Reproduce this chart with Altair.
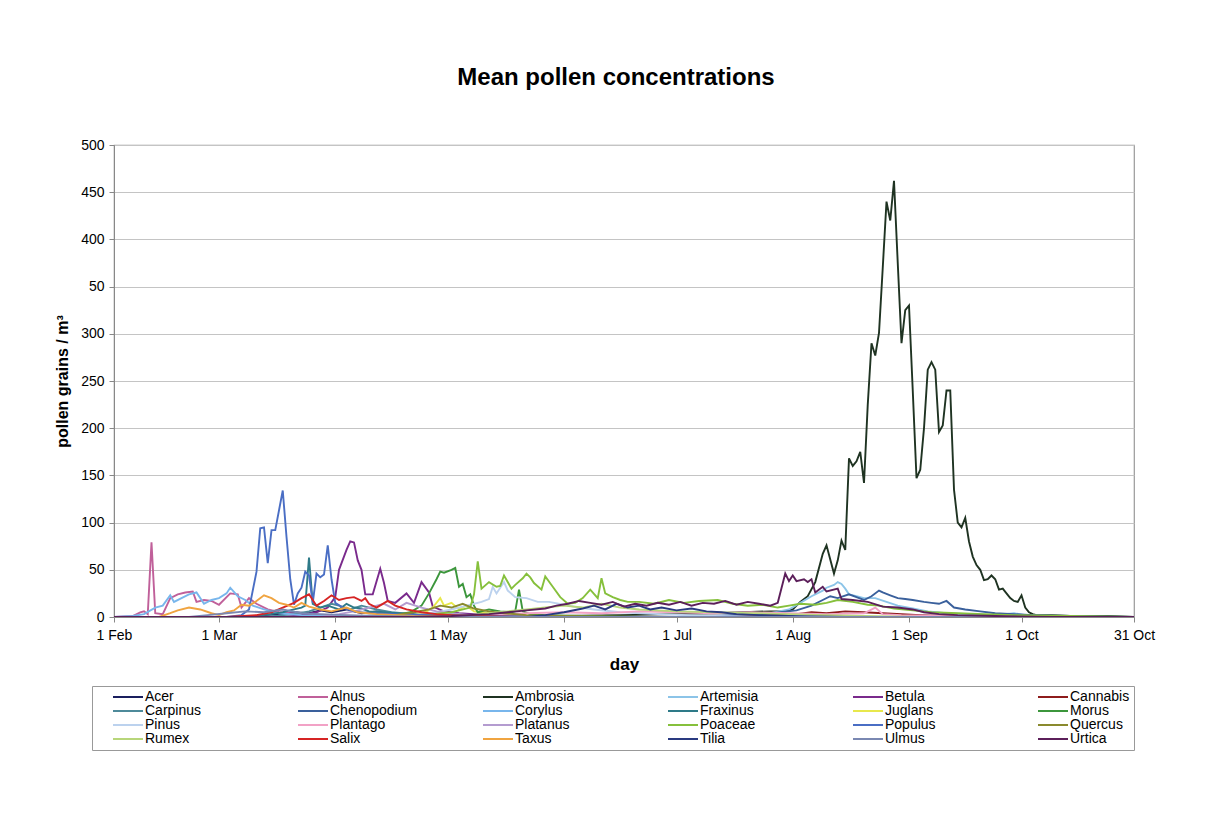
import altair as alt
import pandas as pd

# ---- data (day offset from 1 Feb, concentration) ----
species = ["Acer", "Alnus", "Ambrosia", "Artemisia", "Betula", "Cannabis",
           "Carpinus", "Chenopodium", "Corylus", "Fraxinus", "Juglans", "Morus",
           "Pinus", "Plantago", "Platanus", "Poaceae", "Populus", "Quercus",
           "Rumex", "Salix", "Taxus", "Tilia", "Ulmus", "Urtica"]
colors = ["#1A1F5E", "#C0609A", "#1F3322", "#8CC4E8", "#7A2A8C", "#8E1C1C",
          "#4E8A9A", "#3A609C", "#78B6EC", "#2E7A88", "#E8E84C", "#3C963C",
          "#BCD2EE", "#F2A2C6", "#B49CD0", "#86C03C", "#4A6EC4", "#8A8A2E",
          "#B8D67A", "#D62424", "#F0A440", "#2A3A80", "#7A88B2", "#5C1F5A"]

acer_day = [0, 35, 40, 45, 48, 52, 55, 58, 62, 66, 70, 75, 80, 90, 110, 272]
acer_val = [0, 0, 2, 3, 5, 4, 7, 5, 8, 4, 6, 3, 2, 1, 0, 0]

alnus_day = [0, 5, 7, 8, 9, 10, 11, 13, 15, 17, 19, 21, 22, 24, 26, 28, 31, 33, 34, 36, 38, 41, 44, 50, 55, 65, 80, 272]
alnus_val = [0, 1, 5, 6, 3, 79, 4, 3, 20, 24, 26, 27, 16, 18, 17, 13, 25, 24, 10, 20, 14, 8, 5, 3, 2, 1, 0, 0]

ambrosia_day = [0, 100, 120, 135, 150, 160, 168, 175, 179, 181, 183, 185, 187, 189, 190, 192, 193, 194, 195,
                196, 197, 198, 199, 200, 201, 202, 203, 204, 205, 206, 207, 208, 209, 210, 211, 212, 213,
                214, 215, 216, 217, 218, 219, 220, 221, 222, 223, 224, 225, 226, 227, 228, 229, 230, 231,
                232, 233, 234, 235, 236, 237, 238, 239, 240, 241, 242, 243, 244, 245, 246, 250, 255, 260,
                265, 272]
ambrosia_val = [0, 0, 1, 2, 3, 4, 5, 6, 6, 8, 16, 22, 37, 67, 76, 46, 60, 81, 71,
                168, 160, 165, 175, 142, 225, 290, 277, 301, 370, 440, 420, 462, 375, 290, 325, 330, 240,
                147, 156, 200, 262, 270, 262, 196, 203, 240, 240, 135, 100, 95, 105, 80, 64, 55, 50,
                39, 40, 44, 40, 29, 30, 25, 20, 17, 16, 23, 10, 5, 3, 2, 2, 1, 1,
                1, 0]

artemisia_day = [0, 160, 170, 175, 180, 183, 186, 189, 190, 192, 193, 194, 195, 196, 198, 200, 203, 206,
                 209, 213, 217, 222, 228, 235, 240, 243, 250, 260, 272]
artemisia_val = [0, 0, 2, 4, 8, 15, 22, 28, 31, 34, 37, 35, 30, 24, 22, 20, 20, 16,
                 12, 9, 6, 4, 3, 2, 4, 2, 1, 0, 0]

betula_day = [0, 45, 50, 54, 57, 59, 60, 62, 63, 64, 65, 66, 67, 69, 71, 72, 73, 75, 78, 80, 82, 84, 85,
              88, 92, 100, 110, 130, 272]
betula_val = [0, 0, 2, 5, 10, 21, 50, 71, 80, 79, 60, 50, 24, 24, 51, 36, 17, 15, 25, 15, 37, 26, 11,
              6, 4, 2, 1, 0, 0]

cannabis_day = [0, 150, 165, 175, 182, 186, 190, 195, 200, 205, 210, 215, 222, 235, 272]
cannabis_val = [0, 0, 1, 2, 3, 5, 4, 6, 5, 4, 3, 2, 1, 0, 0]

carpinus_day = [0, 40, 48, 52, 55, 58, 60, 63, 66, 70, 74, 80, 90, 100, 272]
carpinus_val = [0, 0, 3, 6, 10, 14, 12, 8, 12, 8, 5, 3, 1, 0, 0]

chenopodium_day = [0, 150, 165, 175, 182, 186, 189, 191, 193, 196, 198, 200, 202, 204, 205, 207, 209, 211,
                   213, 216, 218, 220, 222, 224, 227, 231, 235, 240, 245, 255, 272]
chenopodium_val = [0, 0, 2, 4, 7, 12, 18, 22, 20, 24, 21, 18, 22, 28, 26, 23, 20, 19,
                   18, 16, 15, 14, 17, 10, 8, 6, 4, 3, 2, 1, 0]

corylus_day = [0, 5, 8, 11, 13, 15, 16, 18, 20, 22, 24, 26, 28, 30, 31, 33, 35, 37, 40, 44, 50, 60, 75, 272]
corylus_val = [0, 1, 3, 10, 12, 23, 16, 20, 24, 26, 14, 18, 20, 25, 31, 22, 18, 12, 8, 4, 2, 1, 0, 0]

fraxinus_day = [0, 35, 40, 45, 48, 50, 51, 52, 53, 55, 57, 60, 62, 64, 66, 68, 72, 76, 80, 90, 100, 120, 272]
fraxinus_val = [0, 0, 2, 5, 8, 10, 12, 63, 14, 10, 12, 8, 14, 10, 9, 6, 5, 4, 3, 2, 1, 0, 0]

juglans_day = [0, 75, 80, 83, 85, 87, 88, 90, 92, 94, 96, 100, 105, 115, 130, 272]
juglans_val = [0, 0, 2, 5, 10, 20, 12, 15, 8, 12, 6, 4, 2, 1, 0, 0]

morus_day = [0, 70, 75, 79, 82, 84, 86, 87, 88, 90, 91, 92, 93, 94, 95, 96, 97, 100, 103, 106, 107, 108,
             109, 111, 115, 125, 140, 272]
morus_val = [0, 0, 2, 5, 12, 25, 40, 48, 47, 50, 52, 32, 35, 21, 24, 12, 5, 8, 6, 5, 6, 29,
             6, 3, 2, 1, 0, 0]

pinus_day = [0, 70, 80, 86, 90, 93, 95, 98, 100, 101, 102, 104, 105, 107, 110, 113, 116, 120, 124, 128,
             135, 145, 160, 180, 272]
pinus_val = [0, 0, 2, 5, 8, 11, 13, 16, 19, 32, 25, 37, 28, 21, 20, 16, 16, 13, 10, 8,
             5, 3, 1, 0, 0]

plantago_day = [0, 90, 100, 110, 120, 130, 140, 150, 160, 170, 180, 190, 200, 203, 205, 210, 220, 235, 272]
plantago_val = [0, 0, 2, 4, 5, 4, 6, 5, 4, 5, 4, 3, 4, 10, 3, 2, 1, 0, 0]

platanus_day = [0, 55, 60, 64, 68, 72, 75, 78, 82, 86, 90, 95, 105, 120, 272]
platanus_val = [0, 0, 3, 6, 10, 14, 8, 15, 10, 6, 4, 2, 1, 0, 0]

poaceae_day = [0, 60, 75, 85, 90, 95, 96, 97, 98, 100, 102, 103, 104, 106, 107, 109, 110, 111, 112, 114,
               115, 117, 119, 121, 123, 125, 127, 129, 130, 131, 133, 135, 137, 140, 144, 148, 152, 156,
               161, 165, 169, 173, 177, 180, 183, 187, 190, 193, 197, 201, 204, 208, 213, 218, 225, 232,
               240, 255, 272]
poaceae_val = [0, 0, 1, 3, 5, 10, 24, 59, 30, 37, 32, 33, 44, 30, 34, 41, 46, 42, 36, 29,
               43, 32, 21, 14, 15, 20, 29, 20, 41, 25, 21, 18, 16, 16, 14, 18, 15, 17,
               18, 14, 12, 13, 10, 12, 14, 13, 15, 18, 16, 13, 12, 9, 7, 5, 4, 3,
               2, 1, 0]

populus_day = [0, 30, 34, 36, 38, 39, 40, 41, 42, 43, 45, 46, 47, 48, 49, 50, 51, 52, 53, 54, 55, 56, 57,
               58, 59, 61, 64, 68, 75, 85, 100, 120, 272]
populus_val = [0, 0, 2, 8, 48, 94, 95, 57, 92, 92, 134, 85, 40, 13, 25, 31, 48, 44, 15, 46, 42, 45, 76,
               40, 15, 10, 6, 4, 3, 2, 1, 0, 0]

quercus_day = [0, 70, 75, 80, 84, 87, 90, 93, 96, 100, 104, 110, 120, 140, 272]
quercus_val = [0, 0, 2, 5, 8, 12, 10, 14, 9, 6, 4, 2, 1, 0, 0]

rumex_day = [0, 85, 95, 100, 105, 110, 115, 120, 125, 130, 135, 140, 150, 160, 170, 180, 190, 200, 215, 272]
rumex_val = [0, 0, 2, 4, 6, 8, 10, 12, 10, 14, 10, 8, 6, 5, 4, 3, 2, 1, 0, 0]

salix_day = [0, 30, 38, 42, 45, 48, 50, 52, 54, 56, 58, 60, 62, 64, 66, 67, 68, 70, 73, 75, 78, 82, 86,
             90, 95, 110, 272]
salix_val = [0, 0, 2, 5, 10, 15, 20, 24, 12, 17, 23, 18, 20, 21, 17, 20, 14, 10, 17, 12, 8, 5, 3,
             2, 1, 0, 0]

taxus_day = [0, 12, 15, 17, 20, 23, 26, 28, 30, 32, 34, 36, 38, 40, 42, 44, 46, 48, 50, 52, 55, 58, 62,
             65, 70, 80, 100, 272]
taxus_val = [0, 0, 4, 7, 10, 8, 4, 2, 5, 7, 13, 12, 17, 23, 20, 15, 13, 10, 15, 11, 8, 6, 10,
             5, 3, 1, 0, 0]

tilia_day = [0, 110, 115, 120, 125, 128, 131, 134, 137, 140, 143, 146, 150, 154, 158, 162, 166, 172, 180,
             195, 272]
tilia_val = [0, 0, 2, 5, 9, 12, 8, 14, 10, 12, 8, 10, 7, 9, 6, 5, 3, 2, 1,
             0, 0]

ulmus_day = [0, 20, 25, 30, 35, 40, 45, 50, 55, 62, 70, 85, 272]
ulmus_val = [0, 0, 2, 4, 6, 5, 8, 4, 3, 2, 1, 0, 0]

urtica_day = [0, 80, 90, 100, 105, 110, 115, 118, 121, 124, 127, 130, 133, 136, 139, 142, 145, 148, 151,
              154, 157, 160, 163, 166, 169, 172, 175, 177, 179, 180, 181, 182, 184, 185, 186, 187, 189,
              190, 193, 194, 197, 201, 205, 209, 213, 216, 220, 225, 235, 250, 272]
urtica_val = [0, 0, 1, 3, 5, 7, 9, 12, 14, 17, 15, 13, 16, 11, 14, 12, 15, 13, 16,
              12, 15, 14, 17, 13, 16, 14, 12, 15, 46, 38, 44, 38, 40, 37, 40, 26, 32,
              27, 30, 19, 18, 16, 11, 10, 8, 5, 3, 2, 1, 0, 0]

series_days = [acer_day, alnus_day, ambrosia_day, artemisia_day, betula_day, cannabis_day,
               carpinus_day, chenopodium_day, corylus_day, fraxinus_day, juglans_day, morus_day,
               pinus_day, plantago_day, platanus_day, poaceae_day, populus_day, quercus_day,
               rumex_day, salix_day, taxus_day, tilia_day, ulmus_day, urtica_day]
series_vals = [acer_val, alnus_val, ambrosia_val, artemisia_val, betula_val, cannabis_val,
               carpinus_val, chenopodium_val, corylus_val, fraxinus_val, juglans_val, morus_val,
               pinus_val, plantago_val, platanus_val, poaceae_val, populus_val, quercus_val,
               rumex_val, salix_val, taxus_val, tilia_val, ulmus_val, urtica_val]

x_tick_days = [0, 28, 59, 89, 120, 150, 181, 212, 242, 272]
x_tick_labels = ["1 Feb", "1 Mar", "1 Apr", "1 May", "1 Jun", "1 Jul", "1 Aug", "1 Sep", "1 Oct", "31 Oct"]
y_tick_values = [0, 50, 100, 150, 200, 250, 300, 350, 400, 450, 500]
y_tick_labels = ["0", "50", "100", "150", "200", "250", "300", "50", "400", "450", "500"]

rows = []
for name, ds, vs in zip(species, series_days, series_vals):
    for d, v in zip(ds, vs):
        rows.append({"species": name, "day": d, "value": v})
df = pd.DataFrame(rows)

def js_list(items):
    return "[" + ",".join(repr(i) if isinstance(i, str) else str(i) for i in items) + "]"

x_label_expr = f"{js_list(x_tick_labels)}[indexof({js_list(x_tick_days)}, datum.value)]"
y_label_expr = f"{js_list(y_tick_labels)}[indexof({js_list(y_tick_values)}, datum.value)]"

FONT = "Liberation Sans"

chart = alt.Chart(df).mark_line(strokeWidth=1.9, clip=True).encode(
    x=alt.X("day:Q",
            scale=alt.Scale(domain=[0, 272], nice=False, zero=False),
            axis=alt.Axis(values=x_tick_days, labelExpr=x_label_expr, title="day",
                          grid=False, tickSize=5, labelPadding=6, labelFontSize=14,
                          titleFontSize=17, titleFontWeight="bold", titlePadding=14,
                          labelFlush=False)),
    y=alt.Y("value:Q",
            scale=alt.Scale(domain=[0, 500], nice=False),
            axis=alt.Axis(values=y_tick_values, labelExpr=y_label_expr,
                          title="pollen grains / m³", grid=True, tickSize=5,
                          labelPadding=5, labelFontSize=14, titleFontSize=16,
                          titleFontWeight="bold", titlePadding=10)),
    color=alt.Color("species:N",
                    scale=alt.Scale(domain=species, range=colors),
                    legend=alt.Legend(title=None, orient="none", legendX=-22, legendY=541,
                                      direction="horizontal", columns=6, gridAlign="all",
                                      symbolType="M-3,0H3", symbolSize=100,
                                      symbolStrokeWidth=2, symbolOffset=25,
                                      labelOffset=10, labelFontSize=14, labelFont=FONT,
                                      columnPadding=48, rowPadding=0, padding=4,
                                      strokeColor="#999999", fillColor="white",
                                      labelLimit=200)),
    order=alt.Order("day:Q"),
).properties(
    width=1020, height=472,
    title=alt.TitleParams("Mean pollen concentrations", fontSize=24, fontWeight="bold",
                          font=FONT, offset=48, anchor="middle", dx=-8),
    autosize=alt.AutoSizeParams(type="none"),
    padding={"left": 106, "top": 137, "right": 60, "bottom": 200},
).configure(
    font=FONT,
).configure_view(
    stroke="#9a9a9a", strokeWidth=1.2,
).configure_axis(
    labelFont=FONT, titleFont=FONT, labelColor="black", titleColor="black",
    domainColor="#888888", tickColor="#888888", gridColor="#c4c4c4", gridWidth=1.2,
)

chart.save("out.html", embed_options={"renderer": "svg", "actions": False})
